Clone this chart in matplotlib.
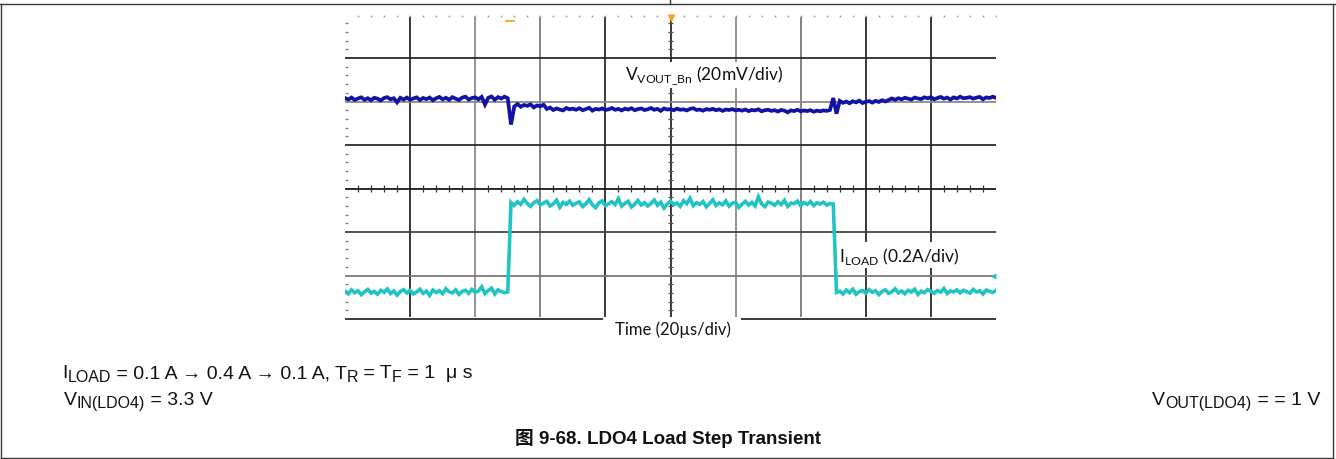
import numpy as np
import matplotlib
matplotlib.use("Agg")
import matplotlib.pyplot as plt
from matplotlib.lines import Line2D

# ---------------- data ----------------
time_per_div_us = 20          # 20 µs/div
n_div_x = 10
vout_mv_per_div = 20          # 20 mV/div
iload_a_per_div = 0.2         # 0.2 A/div
sample_interval_us = 1.0

# VOUT deviation (mV) from the light-load level, one sample per µs (0..200 µs)
vout_mv = [
    0.4, -0.3, 0.6, -0.5, 0.2, 0.7, -0.4, 0.3, -0.6, 0.5,
    0.1, -0.7, 0.4, 0.8, -0.2, 0.3, -1.6, 0.5, -0.3, 0.6,
    -0.4, 0.2, 0.7, -0.5, 0.4, -0.1, 0.6, -0.6, 0.3, 0.9,
    -0.2, 0.5, -0.4, 0.8, 0.1, -0.5, 0.6, 1.0, -0.3, 0.4,
    0.7, -0.2, 0.9, -2.6, 0.5, 1.1, -0.4, 0.8, 0.2, 1.0,
    0.3,
    -11.8,
    -3.5, -2.4, -3.6, -2.8, -3.2, -2.5, -3.9, -3.0, -3.4, -2.7,
    -4.6, -4.0, -5.1, -4.4, -4.9, -5.3, -4.2, -4.8, -4.5, -5.0,
    -4.3, -5.2, -4.7, -4.1, -5.4, -4.6, -4.9, -4.4, -5.1, -4.8,
    -4.2, -5.0, -4.6, -5.3, -4.5, -4.9, -4.3, -5.2, -4.7, -4.4,
    -5.1, -4.8, -4.2, -5.0, -4.6, -5.5, -4.4, -4.9, -4.7, -5.2,
    -4.5, -5.0, -4.8, -5.3, -4.6, -4.3, -5.1, -4.9, -5.4, -4.7,
    -5.0, -4.6, -5.2, -4.8, -5.5, -4.9, -5.1, -4.7, -5.3, -5.0,
    -5.4, -4.9, -5.6, -5.1, -5.3, -4.8, -5.7, -5.2, -5.0, -5.5,
    -5.2, -5.8, -5.1, -5.4, -6.2, -5.3, -5.6, -5.0, -5.7, -5.3,
    -5.6, -5.2, -5.9, -5.4, -5.7, -5.3, -5.5, -5.1,
    0.4, -6.8,
    -0.9, -1.8, -1.2, -2.0, -1.1, -1.6, -0.8, -1.9, -1.3, -1.0,
    -1.7, -0.9, -1.4, -0.6, -1.2, -0.5, 0.2, -0.4, 0.3, -0.2,
    0.5, 0.1, -0.3, 0.6, 0.2, -0.1, 0.7, 0.3, 0.8, -0.2,
    0.4, 0.9, 0.1, 0.6, -0.3, 0.7, 0.2, 1.0, 0.3, 0.5,
    0.8, 0.1, 0.6, 0.9, -0.2, 0.7, 0.4, 1.0, 0.5,
]

# Load current (mA), one sample per µs (0..200 µs)
iload_ma = [
    104, 92, 110, 97, 106, 88, 101, 112, 95, 103,
    90, 108, 99, 114, 93, 105, 86, 102, 111, 96,
    107, 91, 100, 113, 94, 104, 85, 109, 98, 106,
    92, 115, 101, 96, 110, 89, 103, 108, 94, 112,
    99, 105, 124, 93, 107, 118, 91, 110, 102, 97,
    101,
    512,
    498, 515, 503, 526, 507, 494, 511, 520, 500, 509,
    517, 496, 505, 522, 490, 512, 503, 518, 499, 508,
    514, 493, 506, 525, 501, 488, 510, 519, 497, 506,
    515, 502, 529, 495, 508, 517, 491, 504, 521, 500,
    511, 496, 507, 523, 499, 513, 486, 505, 518, 502,
    509, 494, 520, 506, 531, 497, 511, 503, 516, 492,
    507, 524, 498, 510, 501, 519, 495, 508, 513, 489,
    504, 517, 500, 512, 496, 538, 505, 493, 514, 508,
    499, 515, 502, 521, 494, 509, 506, 518, 497, 511,
    503, 516, 498, 510, 505, 513, 500, 507,
    505, 98,
    104, 91, 109, 97, 113, 90, 102, 107, 95, 111,
    99, 106, 88, 103, 110, 94, 101, 115, 96, 105,
    92, 108, 100, 113, 89, 104, 97, 111, 103, 94,
    107, 99, 116, 93, 105, 101, 110, 96, 108, 102,
    95, 112, 100, 106, 91, 109, 103, 98, 107,
]

# screen positions of the channels (divisions from the centre line)
vout_offset_div = 2.06
iload_offset_div = -2.88
iload_marker_div = -2.0
trigger_time_us = 100

vout_label = r"V$_{\mathsf{VOUT\_Bn}}$ (20mV/div)"
iload_label = r"I$_{\mathsf{LOAD}}$ (0.2A/div)"
time_label = "Time (20µs/div)"
# (text, is_subscript) pieces
cond_line1 = [("I", False), ("LOAD", True), (" = 0.1 A → 0.4 A → 0.1 A, T", False),
              ("R", True), (" = T", False), ("F", True), (" = 1  μ s", False)]
cond_line2 = [("V", False), ("IN(LDO4)", True), (" = 3.3 V", False)]
cond_right = [("V", False), ("OUT(LDO4)", True), (" = = 1 V", False)]
caption = "图 9-68. LDO4 Load Step Transient"

# ---------------- figure ----------------
plt.rcParams['mathtext.fontset'] = 'custom'
plt.rcParams['mathtext.rm'] = 'Liberation Sans'
plt.rcParams['mathtext.sf'] = 'Lato'

W, H = 1336, 460
fig = plt.figure(figsize=(W / 100, H / 100), dpi=100)
fig.patch.set_facecolor('white')
renderer = fig.canvas.get_renderer()


def fx(px):
    return px / W


def fy(py):
    return 1 - py / H


frame_col = '#3a3a3a'
for xs, ys in [((0, W), (5, 5)), ((670, 670), (0, 5)), ((1, 1), (5, H)),
               ((1333, 1333), (5, H)), ((1, 1333), (459, 459))]:
    fig.add_artist(Line2D([fx(v) for v in xs], [fy(v) for v in ys],
                          transform=fig.transFigure, color=frame_col, lw=1.0))

ax = fig.add_axes([fx(345), fy(320), 651 / W, 304.5 / H])
x_max = time_per_div_us * n_div_x
ax.set_xlim(0, x_max)
ax.set_ylim(-3, 4)
ax.axis('off')

# graticule
v_cols = ['#2a2a2a', '#8a8a8a', '#7a7a7a', '#2a2a2a', '#2a2a2a',
          '#8a8a8a', '#7a7a7a', '#2a2a2a', '#2a2a2a']
for k, c in zip(range(1, n_div_x), v_cols):
    ax.plot([k * time_per_div_us] * 2, [-2.95, 3.94], color=c, lw=1.3, zorder=1,
            solid_capstyle='butt')
h_lines = [3, 2, 1, 0, -1, -2]
h_cols = ['#2a2a2a', '#8a8a8a', '#2a2a2a', '#1a1a1a', '#444444', '#7a7a7a']
for yv, c in zip(h_lines, h_cols):
    ax.plot([0, x_max], [yv, yv], color=c, lw=1.3, zorder=1, solid_capstyle='butt')
# bottom edge, interrupted by the time label
for x0, x1 in [(0, 79.3), (121.7, x_max)]:
    ax.plot([x0, x1], [-3, -3], color='#2a2a2a', lw=1.3, zorder=1,
            solid_capstyle='butt', clip_on=False)

minor_x = [v for v in np.arange(4, x_max, 4) if v % time_per_div_us != 0]
ax.vlines(minor_x, -0.07, 0.07, color='#333333', lw=0.9, zorder=1)
minor_y = [v for v in np.arange(-2.8, 4.0, 0.2) if abs(v - round(v)) > 0.01]
ax.hlines(minor_y, trigger_time_us - 0.9, trigger_time_us + 0.9, color='#555555',
          lw=0.9, zorder=1)
ax.hlines(minor_y, 0, 0.9, color='#777777', lw=0.9, zorder=1)
dots_x = np.arange(4, x_max + 1, 4)
ax.plot(dots_x, [3.96] * len(dots_x), ls='none', marker='s', ms=1.2,
        color='#9a9a9a', mec='none', zorder=1)

# traces
t_us = np.arange(len(vout_mv)) * sample_interval_us
vout_div = vout_offset_div + np.array(vout_mv) / vout_mv_per_div
iload_div = iload_offset_div + np.array(iload_ma) / 1000.0 / iload_a_per_div
ax.plot(t_us, vout_div, color='#1212a4', lw=2.7, zorder=3, solid_joinstyle='miter')
ax.plot(t_us, iload_div, color='#22c3c3', lw=2.6, zorder=3, solid_joinstyle='miter')

# markers
ax.plot([trigger_time_us], [3.93], marker='v', ms=6, color='#f6a21e', mec='none',
        clip_on=False, zorder=4)
ax.plot([49.4, 52.0], [3.86, 3.86], color='#f6a21e', lw=1.3, zorder=4)
ax.plot([x_max - 0.8], [iload_marker_div], marker='<', ms=5, color='#22c3c3',
        mec='none', clip_on=False, zorder=4)

# channel labels
box = dict(facecolor='white', edgecolor='none', pad=1.5)
ax.text(110.3, 2.61, vout_label, fontsize=12.5, family='Lato', ha='center',
        va='center', color='#111111', bbox=box, zorder=5)
ax.text(151.8, -1.53, iload_label, fontsize=12.5, family='Lato', ha='left',
        va='center', color='#111111', bbox=box, zorder=5)
ax.text(100.6, -3.23, time_label, fontsize=12, family='Lato', ha='center',
        va='center', color='#111111', zorder=5, clip_on=False)

# conditions and caption
fam = ['Liberation Sans', 'Noto Sans CJK SC']
main_size, sub_size, sub_drop = 14, 11.5, 3.5


def rich_text(x_px, base_px, pieces, ha='left'):
    arts, widths = [], []
    for s, is_sub in pieces:
        t = fig.text(0, 0, s, fontsize=sub_size if is_sub else main_size,
                     family=fam, ha='left', va='baseline', color='#111111')
        widths.append(t.get_window_extent(renderer).width)
        arts.append(t)
    cur = x_px if ha == 'left' else x_px - sum(widths)
    for t, w, (s, is_sub) in zip(arts, widths, pieces):
        t.set_position((fx(cur), fy(base_px + (sub_drop if is_sub else 0))))
        cur += w


rich_text(62, 378.5, cond_line1)
rich_text(64, 405, cond_line2)
rich_text(1320, 405, cond_right, ha='right')
fig.text(fx(668), fy(439), caption, fontsize=13.5, family=fam, weight='bold',
         ha='center', va='center', color='#111111')

fig.savefig('out.png', dpi=100, facecolor='white')
